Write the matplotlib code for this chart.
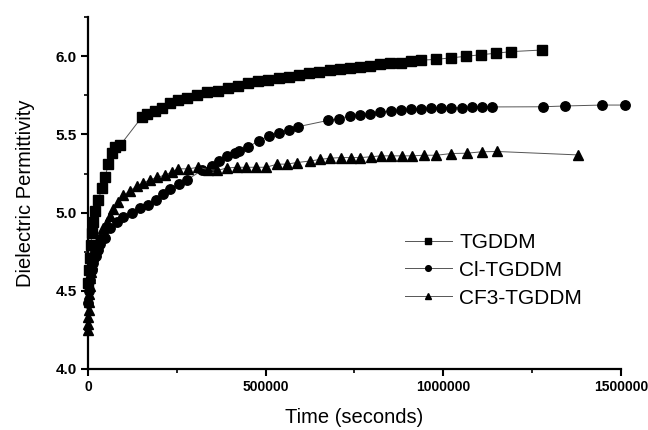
import matplotlib
matplotlib.use("Agg")
import matplotlib.pyplot as plt
from matplotlib.ticker import MultipleLocator

plt.rcParams['font.family'] = ['Liberation Sans', 'DejaVu Sans']

# TGDDM (squares)
t_tgddm = [0, 2000, 4500, 7500, 11000, 15000, 19700, 29000, 38500, 47800, 57100, 66700, 76000, 90000,
           151000, 165000, 188500, 207000, 231000, 254000, 279000, 307500, 335700, 366700, 394900,
           423000, 451000, 479000, 507000, 537000, 566000, 594000, 623000, 651000, 680000, 709000,
           737000, 766000, 794000, 822000, 850000, 880000, 908000, 936000, 979000, 1022000, 1064000,
           1106000, 1150000, 1192000, 1278000]
e_tgddm = [4.55, 4.63, 4.71, 4.79, 4.87, 4.94, 5.01, 5.08, 5.16, 5.23, 5.31, 5.38, 5.42, 5.43,
           5.61, 5.63, 5.65, 5.67, 5.70, 5.72, 5.73, 5.75, 5.77, 5.78, 5.80,
           5.81, 5.83, 5.84, 5.85, 5.86, 5.87, 5.88, 5.89, 5.90, 5.91, 5.92,
           5.925, 5.93, 5.94, 5.95, 5.955, 5.96, 5.97, 5.975, 5.98, 5.99, 6.00,
           6.01, 6.02, 6.03, 6.04]

# Cl-TGDDM (circles)
t_cl = [0, 3000, 6000, 10000, 15000, 21000, 27000, 33800, 47800, 61900, 80800, 99300, 123000, 146000,
        170000, 191000, 211000, 231000, 256000, 279000, 320000, 348000, 369000, 392000, 414000,
        426000, 451000, 481000, 509000, 537000, 566000, 592000, 676000, 707000, 737000, 765000,
        794000, 822000, 852000, 880000, 908000, 936000, 965000, 993000, 1023000, 1052000, 1080000,
        1108000, 1136000, 1280000, 1342000, 1446000, 1511000]
e_cl = [4.42, 4.50, 4.57, 4.63, 4.68, 4.72, 4.76, 4.80, 4.84, 4.90, 4.94, 4.97, 5.00, 5.03,
        5.05, 5.08, 5.12, 5.15, 5.18, 5.21, 5.27, 5.30, 5.33, 5.36, 5.38,
        5.395, 5.42, 5.46, 5.49, 5.51, 5.53, 5.55, 5.59, 5.60, 5.62, 5.625,
        5.633, 5.643, 5.65, 5.654, 5.66, 5.665, 5.667, 5.671, 5.671, 5.671, 5.675,
        5.677, 5.676, 5.677, 5.682, 5.688, 5.688]

# CF3-TGDDM (triangles)
t_cf3 = [0, 0, 1000, 1500, 2500, 3500, 5000, 6500, 8500, 11000, 15000, 19700, 24500, 33800, 43000,
         52600, 61900, 71200, 85300, 99300, 118000, 137000, 155600, 174500, 193300, 216700, 235500,
         254000, 282000, 310000, 338500, 364000, 390000, 418000, 444600, 472700, 500900, 532700,
         559000, 587000, 624700, 652800, 681000, 711000, 739000, 767000, 795500, 823700, 851800,
         882800, 910900, 945500, 981000, 1023000, 1066000, 1108000, 1152000, 1380000]
e_cf3 = [4.25, 4.29, 4.33, 4.38, 4.43, 4.48, 4.53, 4.58, 4.62, 4.67, 4.72, 4.78, 4.81, 4.85, 4.90,
         4.94, 4.98, 5.02, 5.07, 5.11, 5.14, 5.17, 5.19, 5.21, 5.225, 5.24, 5.26,
         5.28, 5.28, 5.29, 5.275, 5.27, 5.285, 5.29, 5.29, 5.29, 5.29, 5.31,
         5.31, 5.32, 5.33, 5.34, 5.348, 5.352, 5.352, 5.352, 5.357, 5.363, 5.363,
         5.363, 5.363, 5.367, 5.367, 5.378, 5.38, 5.389, 5.391, 5.369]

fig = plt.figure(figsize=(6.48, 4.30), dpi=100)
ax = fig.add_axes([0.136, 0.142, 0.822, 0.818])

lk = dict(color='#555555', linewidth=0.7, clip_on=False, markeredgecolor='black', markerfacecolor='black')
ax.plot(t_tgddm, e_tgddm, marker='s', markersize=6.8, label='TGDDM', **lk)
ax.plot(t_cl, e_cl, marker='o', markersize=6.8, label='Cl-TGDDM', **lk)
ax.plot(t_cf3, e_cf3, marker='^', markersize=7.2, label='CF3-TGDDM', **lk)

ax.set_xlim(0, 1500000)
ax.set_ylim(4.0, 6.25)
ax.xaxis.set_minor_locator(MultipleLocator(250000))
ax.yaxis.set_minor_locator(MultipleLocator(0.25))
ax.set_yticks([4.0, 4.5, 5.0, 5.5, 6.0])
ax.set_yticklabels(['4.0', '4.5', '5.0', '5.5', '6.0'])
ax.set_xticks([0, 500000, 1000000, 1500000])
ax.set_xticklabels(['0', '500000', '1000000', '1500000'])

for s in ['top', 'right']:
    ax.spines[s].set_visible(False)
for s in ['left', 'bottom']:
    ax.spines[s].set_linewidth(1.6)

ax.tick_params(which='major', direction='out', length=5, width=1.5, pad=3)
ax.tick_params(which='minor', direction='out', length=3, width=1.2)
ax.tick_params(axis='x', which='major', labelsize=10)
ax.tick_params(axis='y', which='major', labelsize=11)
for lbl in ax.get_xticklabels() + ax.get_yticklabels():
    lbl.set_fontweight('bold')

ax.set_xlabel('Time (seconds)', fontsize=14.5, labelpad=10)
ax.set_ylabel('Dielectric Permittivity', fontsize=14.5, labelpad=15)

leg = ax.legend(loc='upper left', bbox_to_anchor=(405 / 648, 1 - 233 / 430),
                bbox_transform=fig.transFigure, frameon=False, fontsize=15,
                numpoints=1, handlelength=2.25, handletextpad=0.35, labelspacing=0.42,
                markerscale=0.6, borderpad=0, borderaxespad=0)

fig.savefig('out.png', dpi=100)
